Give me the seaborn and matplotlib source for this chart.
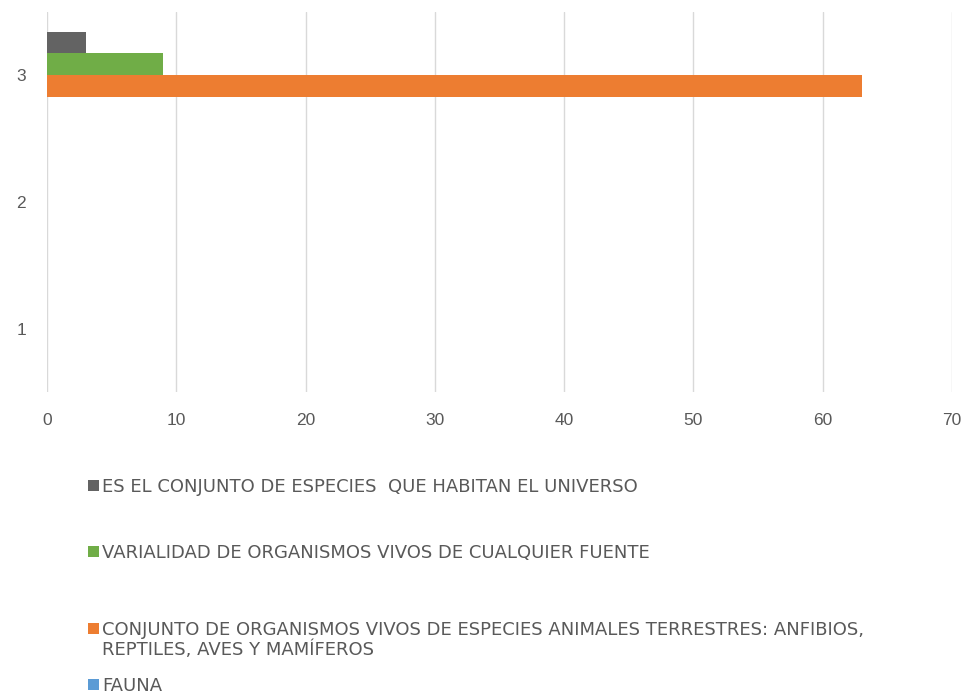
import matplotlib
matplotlib.use('Agg')
import pandas as pd
import matplotlib.pyplot as plt
import seaborn as sns

# Data -------------------------------------------------------------------------

categories = ["3", "2", "1"]
series = [
    "ES EL CONJUNTO DE ESPECIES  QUE HABITAN EL UNIVERSO",
    "VARIALIDAD DE ORGANISMOS VIVOS DE CUALQUIER FUENTE",
    "CONJUNTO DE ORGANISMOS VIVOS DE ESPECIES ANIMALES TERRESTRES: ANFIBIOS, REPTILES, AVES Y MAMÍFEROS",
    "FAUNA",
]
values_cat3 = [3, 9, 63, 0]
colors = ["#636363", "#70AD47", "#ED7D31", "#5B9BD5"]

# where the long legend label wraps onto a second line
wrap_after = "ANFIBIOS,"

df = pd.DataFrame({"categoria": ["3"] * len(series), "serie": series, "valor": values_cat3})

if __name__ == "__main__":

	sns.set_theme(style="white")
	plt.rcParams['font.family'] = ['Liberation Sans', 'DejaVu Sans']

	fig = plt.figure(figsize=(9.67, 6.98), dpi=100)
	ax = fig.add_axes([0.0486, 0.4384, 0.9359, 0.5446])

	sns.barplot(data=df, x="valor", y="categoria", hue="serie", order=categories,
	            hue_order=series, palette=colors, width=0.69, orient="h", ax=ax,
	            saturation=1, errorbar=None, linewidth=0)

	handles, labels = ax.get_legend_handles_labels()
	ax.get_legend().remove()

	ax.set_xlim(0, 70)
	ax.set_xticks(range(0, 71, 10))
	ax.set_xlabel("")
	ax.set_ylabel("")
	ax.xaxis.grid(True, color="#D9D9D9", linewidth=1)
	ax.set_axisbelow(True)
	for s in ax.spines.values():
		s.set_visible(False)
	ax.tick_params(axis="both", length=0, labelsize=12.5, labelcolor="#595959")
	ax.tick_params(axis="x", pad=15)
	ax.tick_params(axis="y", pad=15)

	# Legend, one entry per line as in the original ------------------------------
	# fig.legend already keeps every legend it makes, so no add_artist here
	font = {"family": "DejaVu Sans", "size": 13}
	ys = [0.3023, 0.2077, 0.0974, 0.0172]
	for h, l, y in zip(handles, labels, ys):
		rest = None
		if wrap_after in l:
			l, rest = l.split(wrap_after)
			l = l + wrap_after
		leg = fig.legend([h], [l], loc="center left", bbox_to_anchor=(0.091, y),
		                 frameon=False, borderpad=0, borderaxespad=0, handlelength=0.6,
		                 handleheight=0.6, handletextpad=0.2,
		                 labelcolor="#595959", prop=font)
		if rest:
			# second line of the wrapped label, lined up under the first one
			fig.canvas.draw()
			bb = leg.get_texts()[0].get_window_extent()
			fig.text(bb.x0 / fig.bbox.width, y - 20 / 698, rest.strip(), ha="left",
			         va="center", color="#595959", fontdict=font)

	fig.savefig("out.png", dpi=100)
